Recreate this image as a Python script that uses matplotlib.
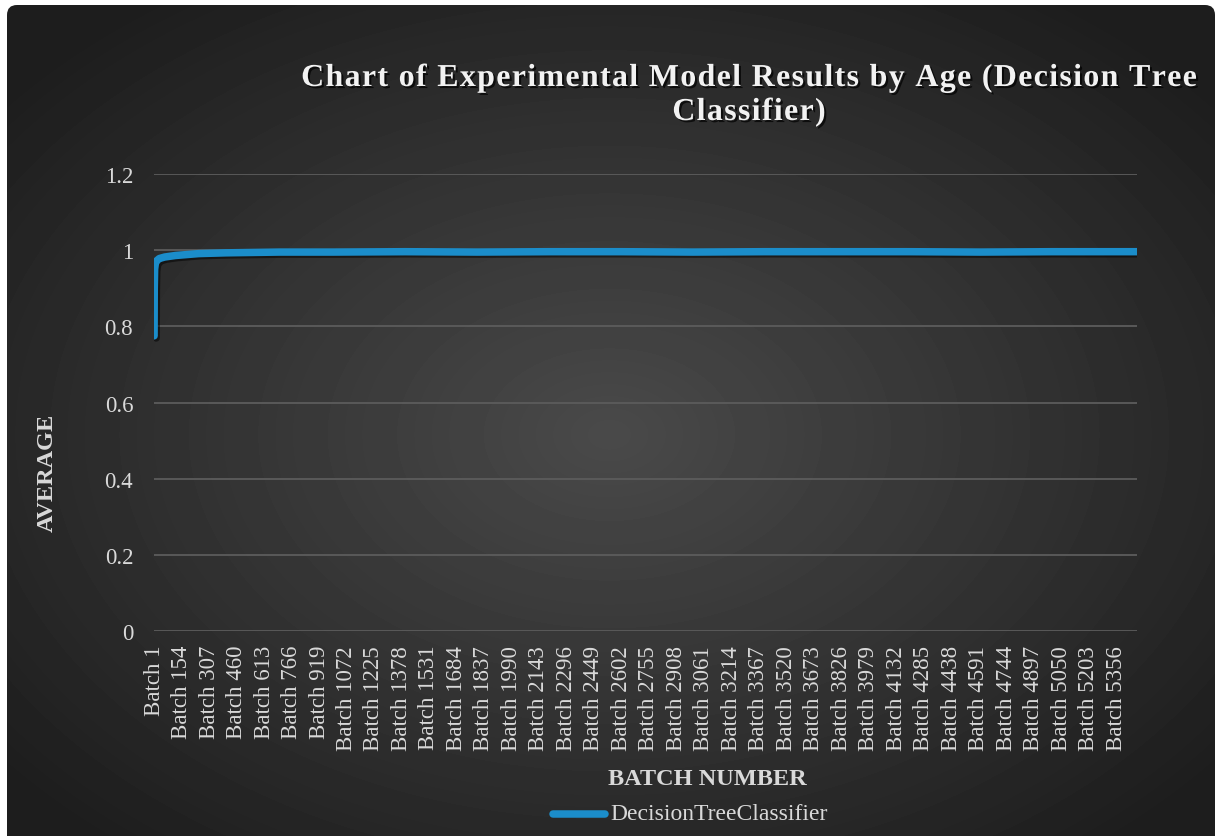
"""Decision tree classifier: running average per batch, dark Excel-style chart."""

import matplotlib

matplotlib.use("Agg")
import matplotlib.pyplot as plt
import matplotlib.patheffects as pe
import numpy as np
from matplotlib import font_manager, ft2font
from matplotlib.patches import FancyBboxPatch
from matplotlib.ticker import FuncFormatter

# batch index -> running average (sampled along the curve)
BATCHES = [1, 2, 4, 8, 15, 30, 60, 120, 250, 400, 700, 1000, 1400, 1800,
           2200, 2600, 3000, 3400, 3800, 4200, 4600, 5000, 5472]
AVERAGE = [0.775, 0.90, 0.95, 0.965, 0.972, 0.978, 0.982, 0.986, 0.991, 0.993,
           0.995, 0.995, 0.996, 0.995, 0.996, 0.996, 0.995, 0.996, 0.996, 0.996,
           0.995, 0.996, 0.996]
N_BATCHES = 5472
TICK_BATCHES = [1, 154, 307, 460, 613, 766, 919, 1072, 1225, 1378, 1531, 1684,
                1837, 1990, 2143, 2296, 2449, 2602, 2755, 2908, 3061, 3214,
                3367, 3520, 3673, 3826, 3979, 4132, 4285, 4438, 4591, 4744,
                4897, 5050, 5203, 5356]
SERIES_NAME = "DecisionTreeClassifier"
TITLE_LINES = ["Chart of Experimental Model Results by Age (Decision Tree", "Classifier)"]

W, H = 1218, 837
FONT = "Liberation Serif"
TEXT_COLOR = "#d9d9d9"
LINE_COLOR = "#1b8dca"
TITLE_SIZE = 23
LETTER_SPACING = 1.3  # extra pixels between title characters


def spaced_text(fig, line, cx, baseline, **kw):
    """Draw one centred line with extra tracking between characters."""
    path = font_manager.findfont(font_manager.FontProperties(family=FONT, weight="bold"))
    font = ft2font.FT2Font(path)
    font.set_size(TITLE_SIZE, fig.dpi)
    adv = [font.load_char(ord(c)).linearHoriAdvance / 65536 for c in line]
    total = sum(adv) + LETTER_SPACING * (len(line) - 1)
    x = cx - total / 2
    for c, a in zip(line, adv):
        if c != " ":
            fig.text(x / W, 1 - baseline / H, c, ha="left", va="baseline", **kw)
        x += a + LETTER_SPACING


fig = plt.figure(figsize=(W / 100, H / 100), dpi=100, facecolor="white")

# background: rounded panel with a radial grey gradient
bg = fig.add_axes([0, 0, 1, 1])
bg.set_xlim(0, W)
bg.set_ylim(H, 0)
bg.axis("off")
yy, xx = np.mgrid[0:H, 0:W]
r = np.hypot((xx - W * 0.5) / (W * 0.62), (yy - H * 0.52) / (H * 0.62))
shade = np.clip(0.29 - 0.17 * r, 0.115, 1.0)
panel = FancyBboxPatch((7, 6), 1208, H + 20, boxstyle="round,pad=0,rounding_size=10",
                       facecolor="none", edgecolor="none")
bg.add_patch(panel)
im = bg.imshow(shade, cmap="gray", vmin=0, vmax=1, extent=(0, W, H, 0),
               interpolation="bilinear")
im.set_clip_path(panel)

ax = fig.add_axes([154 / W, 205 / H, 983 / W, 457 / H])
ax.patch.set_alpha(0)
line, = ax.plot(BATCHES, AVERAGE, color=LINE_COLOR, lw=5.4, solid_capstyle="round",
                solid_joinstyle="round", zorder=3, label=SERIES_NAME)
line.set_path_effects([pe.SimpleLineShadow(offset=(1.5, -1.5), shadow_color="black", alpha=0.5),
                       pe.Normal()])

ax.set_xlim(0.5, N_BATCHES + 0.5)
ax.set_ylim(0, 1.2)
ax.set_yticks(np.arange(0, 1.21, 0.2))
ax.yaxis.set_major_formatter(FuncFormatter(lambda v, _: f"{v:.1f}".rstrip("0").rstrip(".")))
ax.set_xticks(TICK_BATCHES)
ax.set_xticklabels([f"Batch {b}" for b in TICK_BATCHES], rotation=90)
ax.tick_params(axis="both", length=0, colors=TEXT_COLOR, labelsize=16.5)
ax.tick_params(axis="y", pad=15)
ax.tick_params(axis="x", pad=10)
for lab in ax.get_xticklabels() + ax.get_yticklabels():
    lab.set_fontfamily(FONT)
ax.grid(axis="y", color="#5c5c5c", lw=1.3)
for s in ax.spines.values():
    s.set_visible(False)

shadow = [pe.SimplePatchShadow(offset=(1.5, -1.5), shadow_rgbFace="black", alpha=0.7), pe.Normal()]
for i, txt in enumerate(TITLE_LINES):
    spaced_text(fig, txt, 749, 87 + 34 * i, fontsize=TITLE_SIZE, fontweight="bold",
                family=FONT, color="#f2f2f2", path_effects=shadow)

fig.text(47 / W, 1 - 473 / H, "AVERAGE", rotation=90, ha="center", va="center",
         fontsize=17.5, fontweight="bold", family=FONT, color=TEXT_COLOR)
fig.text(707 / W, 1 - 780 / H, "BATCH NUMBER", ha="center", va="center",
         fontsize=17.5, fontweight="bold", family=FONT, color=TEXT_COLOR)

# legend entry drawn in figure pixels below the axis title
fig.add_artist(plt.Line2D([553 / W, 605 / W], [1 - 815 / H, 1 - 815 / H],
                          color=LINE_COLOR, lw=5.4, solid_capstyle="round"))
fig.text(610 / W, 1 - 815 / H, SERIES_NAME, ha="left", va="center",
         fontsize=17, family=FONT, color=TEXT_COLOR)

fig.savefig("out.png", dpi=100, facecolor="white")
